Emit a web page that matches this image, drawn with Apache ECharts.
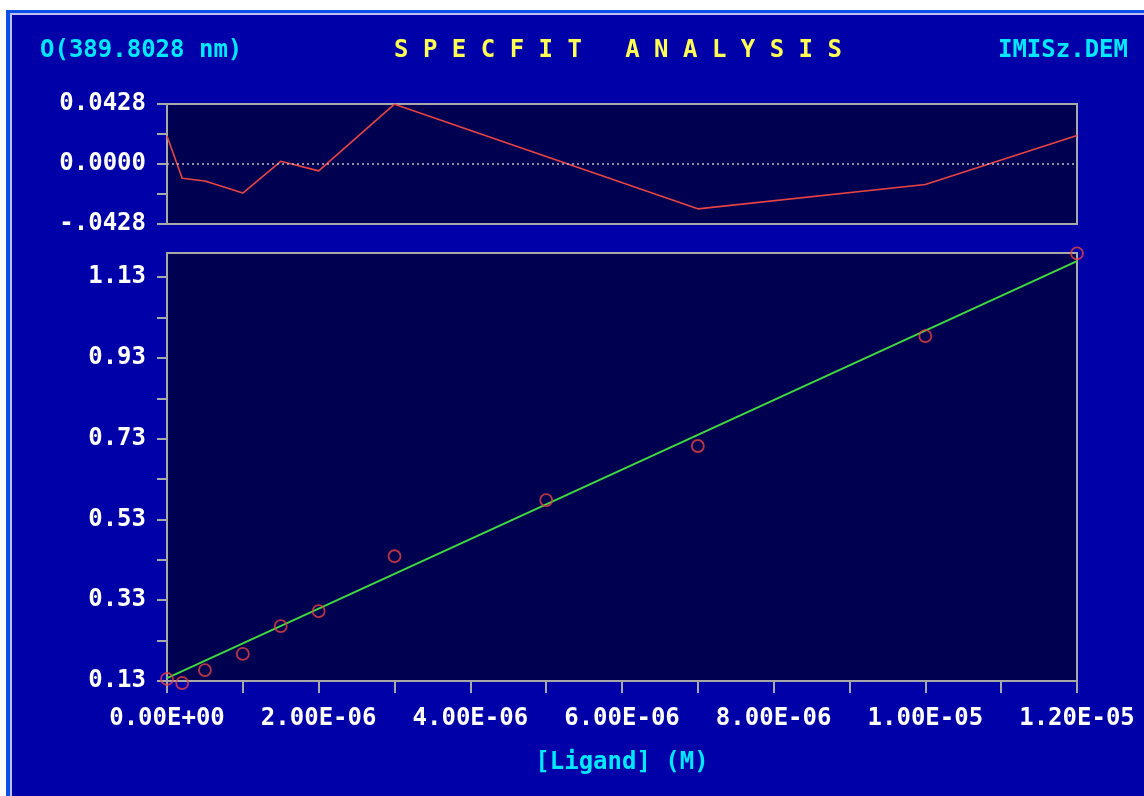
<!DOCTYPE html>
<html><head><meta charset="utf-8">
<script src="https://cdn.jsdelivr.net/npm/echarts@6/dist/echarts.min.js"></script>
<style>
html,body{margin:0;padding:0;background:#ffffff;overflow:hidden;}
.f{position:absolute;}
</style>
</head><body>
<div class="f" style="left:6px;top:10px;width:1138px;height:786px;background:#0a50e6"></div>
<div class="f" style="left:10px;top:13px;width:1134px;height:783px;background:#c0c0f0"></div>
<div class="f" style="left:12px;top:15px;width:1132px;height:781px;background:#0000a8"></div>
<div id="c" class="f" style="left:0;top:0;width:1144px;height:796px"></div>
<script>
// ---- data ----
const concX    = [0, 2e-7, 5e-7, 1e-6, 1.5e-6, 2e-6, 3e-6, 5e-6, 7e-6, 1e-5, 1.2e-5];
const absObs   = [0.135, 0.125, 0.157, 0.197, 0.266, 0.303, 0.439, 0.578, 0.712, 0.984, 1.189];
const residual = [0.0199, -0.0102, -0.0121, -0.0207, 0.0019, -0.0049, 0.0427, 0.0053, -0.0320, -0.0146, 0.0204];
const fitX     = [0, 1.2e-5];
const fitY     = [0.137, 1.170];

const xTicks      = [0,1e-6,2e-6,3e-6,4e-6,5e-6,6e-6,7e-6,8e-6,9e-6,1e-5,1.1e-5,1.2e-5];
const xLabelVals  = [0,2e-6,4e-6,6e-6,8e-6,1e-5,1.2e-5];
const yTicks      = [0.13,0.23,0.33,0.43,0.53,0.63,0.73,0.83,0.93,1.03,1.13];
const yLabelVals  = [0.13,0.33,0.53,0.73,0.93,1.13];
const resTicks    = [-0.0428,-0.0214,0,0.0214,0.0428];
const resLabelVals= [-0.0428,0,0.0428];
const resLabelTxt = ['-.0428','0.0000','0.0428'];

const titleText = 'S P E C F I T   A N A L Y S I S';
const leftText  = 'O(389.8028 nm)';
const rightText = 'IMISz.DEM';
const xName     = '[Ligand] (M)';

// ---- styling ----
const FONT = 'DejaVu Sans Mono';
const FS = 24;
const GRAY = '#a8a8a8';
const PLOT = '#000050';
const RED = '#e84444';

function sci(v){
  if (Math.abs(v) < 1e-20) return '0.00E+00';
  const e = Math.floor(Math.log10(Math.abs(v)) + 1e-9);
  const m = v/Math.pow(10,e);
  return m.toFixed(2)+'E'+(e<0?'-':'+')+String(Math.abs(e)).padStart(2,'0');
}
function resFmt(v){
  let best=0, d=1e9;
  resLabelVals.forEach((t,i)=>{ if(Math.abs(t-v)<d){d=Math.abs(t-v);best=i;} });
  return resLabelTxt[best];
}

const lblStyle = {color:'#ffffff', fontFamily:FONT, fontWeight:'bold', fontSize:FS};

const chart = echarts.init(document.getElementById('c'), null, {renderer:'canvas'});
chart.setOption({
  backgroundColor:'transparent',
  animation:false,
  graphic:[
    {type:'text', x:618, y:51, style:{text:titleText, fill:'#ffff55', font:'bold '+FS+'px "'+FONT+'"', align:'center', verticalAlign:'middle'}},
    {type:'text', x:40, y:51, style:{text:leftText, fill:'#00e8ff', font:'bold '+FS+'px "'+FONT+'"', align:'left', verticalAlign:'middle'}},
    {type:'text', x:1128, y:51, style:{text:rightText, fill:'#00e8ff', font:'bold '+FS+'px "'+FONT+'"', align:'right', verticalAlign:'middle'}}
  ],
  grid:[
    {left:167, top:104, width:910, height:120, show:true, backgroundColor:PLOT, borderColor:GRAY, borderWidth:2},
    {left:167, top:253, width:910, height:428, show:true, backgroundColor:PLOT, borderColor:GRAY, borderWidth:2}
  ],
  xAxis:[
    {gridIndex:0, type:'value', min:0, max:1.2e-5, axisLine:{show:false}, axisTick:{show:false}, axisLabel:{show:false}, splitLine:{show:false}},
    {gridIndex:1, type:'value', min:0, max:1.2e-5,
     axisLine:{show:true, lineStyle:{color:GRAY, width:2}},
     axisTick:{show:true, inside:false, length:12, lineStyle:{color:GRAY, width:2}, customValues:xTicks},
     axisLabel:Object.assign({margin:26, customValues:xLabelVals, formatter:sci}, lblStyle),
     splitLine:{show:false},
     name:xName, nameLocation:'middle', nameGap:70,
     nameTextStyle:{color:'#00e8ff', fontFamily:FONT, fontWeight:'bold', fontSize:FS}}
  ],
  yAxis:[
    {gridIndex:0, type:'value', min:-0.0428, max:0.0428,
     axisLine:{show:true, lineStyle:{color:GRAY, width:2}},
     axisTick:{show:true, inside:false, length:10, lineStyle:{color:GRAY, width:2}, customValues:resTicks},
     axisLabel:Object.assign({margin:21, customValues:resLabelVals, formatter:resFmt}, lblStyle),
     splitLine:{show:false}},
    {gridIndex:1, type:'value', min:0.13, max:1.19,
     axisLine:{show:true, lineStyle:{color:GRAY, width:2}},
     axisTick:{show:true, inside:false, length:10, lineStyle:{color:GRAY, width:2}, customValues:yTicks},
     axisLabel:Object.assign({margin:21, customValues:yLabelVals, formatter:v=>v.toFixed(2)}, lblStyle),
     splitLine:{show:false}}
  ],
  series:[
    {type:'line', xAxisIndex:0, yAxisIndex:0, data:concX.map((x,i)=>[x,residual[i]]),
     showSymbol:false, symbol:'none', lineStyle:{color:RED, width:1.6}, z:3,
     markLine:{silent:true, symbol:'none', label:{show:false},
       lineStyle:{color:'#c0c0c0', type:[2,3], width:1.5}, data:[{yAxis:0}]}},
    {type:'line', xAxisIndex:1, yAxisIndex:1, data:fitX.map((x,i)=>[x,fitY[i]]),
     showSymbol:false, symbol:'none', lineStyle:{color:'#40dc40', width:1.8}, z:3},
    {type:'scatter', xAxisIndex:1, yAxisIndex:1, data:concX.map((x,i)=>[x,absObs[i]]),
     symbol:'circle', symbolSize:12, clip:false,
     itemStyle:{color:'transparent', borderColor:RED, borderWidth:1.8}, z:4}
  ]
});
</script>
</body></html>
